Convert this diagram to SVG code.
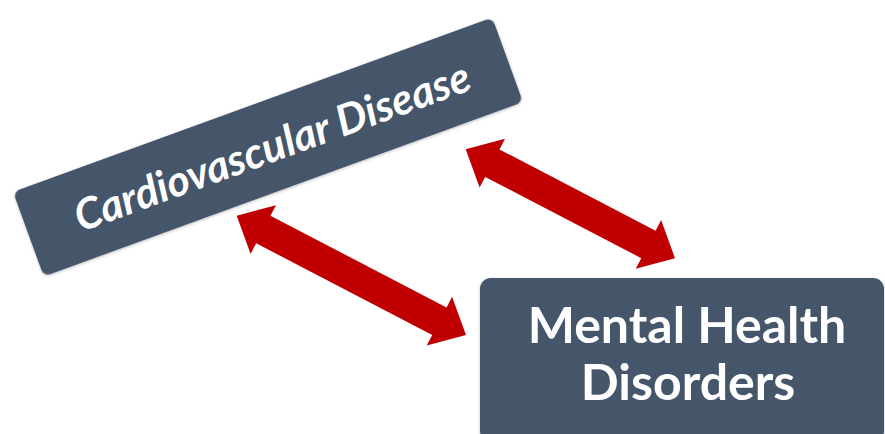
<svg xmlns="http://www.w3.org/2000/svg" width="885" height="434" viewBox="0 0 885 434">
  <defs>
    <filter id="sh" x="-10%" y="-10%" width="120%" height="130%">
      <feDropShadow dx="0" dy="1" stdDeviation="1.5" flood-color="#000" flood-opacity="0.25"/>
    </filter>
    <style>
      .box { fill: #44546A; filter: url(#sh); }
      .lbl { fill: #FFFFFF; font-family: Lato, "Open Sans", "Liberation Sans", sans-serif; font-weight: bold; text-anchor: middle; }
      .arrow { fill: #C00000; }
    </style>
  </defs>
  <rect width="885" height="434" fill="#FFFFFF"/>
  <g id="cardiovascular-disease" transform="translate(268,147) rotate(-20)">
    <rect class="box" x="-255" y="-45" width="510" height="90" rx="7"/>
    <text class="lbl" x="4" y="16" font-size="43" font-style="italic">Cardiovascular Disease</text>
  </g>
  <g id="mental-health-disorders">
    <rect class="box" x="480" y="278" width="404" height="165" rx="11"/>
    <text class="lbl" x="687" y="343" font-size="50">Mental Health</text>
    <text class="lbl" x="688" y="400" font-size="50">Disorders</text>
  </g>
  <g id="connectors">
    <path class="arrow" transform="translate(236.7,215.7) rotate(27.49)" d="M0,0 L30,-27.5 L30,-15.5 L228.5,-15.5 L228.5,-27.5 L258.5,0 L228.5,27.5 L228.5,15.5 L30,15.5 L30,27.5 Z"/>
    <path class="arrow" transform="translate(465.7,149.3) rotate(27.5)" d="M0,0 L30,-27.5 L30,-15.5 L206,-15.5 L206,-27.5 L236,0 L206,27.5 L206,15.5 L30,15.5 L30,27.5 Z"/>
  </g>
</svg>
